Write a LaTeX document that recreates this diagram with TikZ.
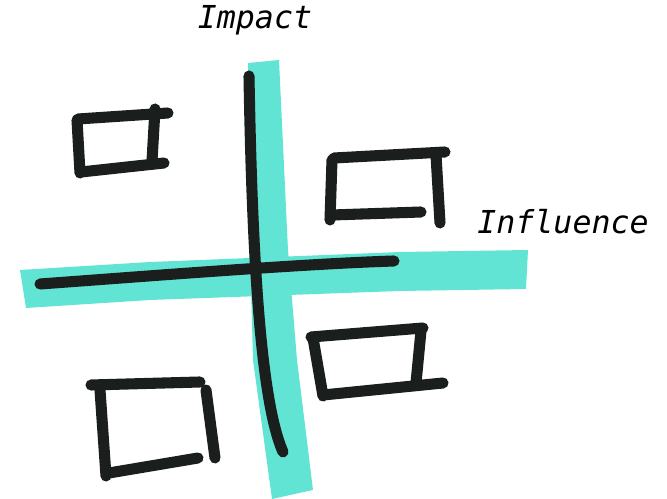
\documentclass[tikz,border=0pt]{standalone}
\usepackage{fontspec}
\setmonofont{DejaVu Sans Mono}
\definecolor{highlight}{RGB}{98,228,212}
\definecolor{marker}{RGB}{26,30,28}

\begin{document}
\begin{tikzpicture}[x=0.02cm, y=-0.02cm,
    band/.style={fill=highlight, draw=none},
    pen/.style={draw=marker, line width=6.3pt, line cap=round, line join=round},
    axis/.style={font=\fontsize{18}{22}\selectfont\ttfamily\itshape, text=black}
  ]
  \useasboundingbox (0,0) rectangle (667,499);

  % Highlighter strokes
  \fill[band] (248,63) -- (279,60) -- (288,250) -- (297,360) -- (313,490)
              -- (272,499) -- (253,360) -- (250,250) -- cycle;
  \fill[band] (20,270) -- (150,262) -- (400,252) -- (528,250) -- (526,289)
              -- (400,291) -- (150,300) -- (26,308) -- cycle;

  % Axes
  \draw[pen] (249,76) .. controls (252,250) and (260,400) .. (283,452);
  \draw[pen] (40,284) .. controls (150,276) and (300,264) .. (394,261);

  % Top left box
  \draw[pen] (78,119) -- (168,113);
  \draw[pen] (155,109) -- (152,161);
  \draw[pen] (81,172) -- (164,163);
  \draw[pen] (77,120) -- (80,173);

  % Top right box
  \draw[pen] (334,158) -- (445,152);
  \draw[pen] (436,155) -- (440,223);
  \draw[pen] (332,160) -- (330,220);
  \draw[pen] (332,215) -- (421,212);

  % Bottom right box
  \draw[pen] (311,337) -- (423,328);
  \draw[pen] (421,331) -- (416,383);
  \draw[pen] (313,338) -- (323,396);
  \draw[pen] (323,395) -- (443,383);

  % Bottom left box
  \draw[pen] (91,385) -- (200,382);
  \draw[pen] (206,390) -- (215,458);
  \draw[pen] (100,390) -- (106,476);
  \draw[pen] (109,473) -- (198,458);

  % Labels
  \node[axis] (impact) at (255,20) {Impact};
  \node[axis] (influence) at (563,222) {Influence};

\end{tikzpicture}
\end{document}
